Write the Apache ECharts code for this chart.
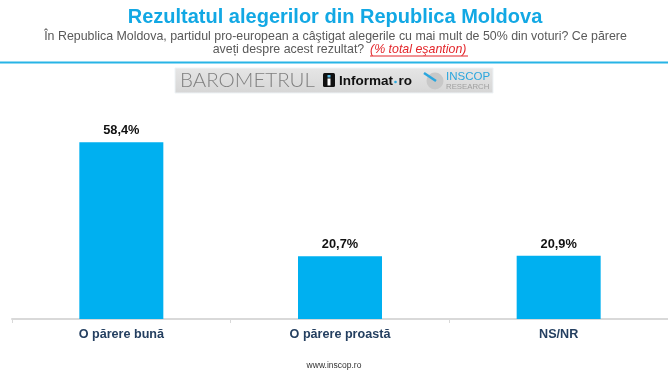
<!DOCTYPE html>
<html>
<head>
<meta charset="utf-8">
<script src="https://cdn.jsdelivr.net/npm/echarts@6/dist/echarts.min.js"></script>
<style>
html,body{margin:0;padding:0;background:#fff;}
#chart{width:668px;height:373px;}
</style>
</head>
<body>
<div id="chart"></div>
<script>
const categories = ['O părere bună', 'O părere proastă', 'NS/NR'];
const values = [58.4, 20.7, 20.9];
const titleText = 'Rezultatul alegerilor din Republica Moldova';
const subtitleLine1 = 'În Republica Moldova, partidul pro-european a câştigat alegerile cu mai mult de 50% din voturi? Ce părere';
const subtitleLine2 = 'aveți despre acest rezultat? ';
const subtitleNote = '(% total eşantion)';
const footerText = 'www.inscop.ro';

const chart = echarts.init(document.getElementById('chart'), null, {renderer: 'canvas'});
const F = '"Liberation Sans", Arial, sans-serif';

chart.setOption({
  animation: false,
  backgroundColor: '#ffffff',
  grid: {left: 12, right: 0, top: 107.2, bottom: 54, containLabel: false},
  xAxis: {
    type: 'category',
    data: categories,
    axisLine: {show: true, lineStyle: {color: '#d9d9d9', width: 2}},
    axisTick: {show: true, length: 4, lineStyle: {color: '#d9d9d9', width: 1}},
    axisLabel: {margin: 9, color: '#243f60', fontFamily: F, fontWeight: 'bold', fontSize: 12.6}
  },
  yAxis: {type: 'value', min: 0, max: 70, show: false, splitLine: {show: false}},
  series: [{
    type: 'bar',
    data: values,
    barWidth: 84,
    itemStyle: {color: '#00b0f0'},
    label: {
      show: true, position: 'top', distance: 5,
      fontFamily: F, fontWeight: 'bold', fontSize: 12.8, color: '#111',
      formatter: p => p.value.toFixed(1).replace('.', ',') + '%'
    }
  }],
  graphic: [
    {type: 'text', x: 335, y: 17, style: {text: titleText, font: 'bold 20px ' + F, fill: '#12a8e4', align: 'center', verticalAlign: 'middle'}},
    {type: 'text', x: 335.5, y: 36.3, style: {text: subtitleLine1, font: '12.4px ' + F, fill: '#595959', align: 'center', verticalAlign: 'middle'}},
    {type: 'text', x: 212.7, y: 49.8, style: {text: subtitleLine2, font: '12.4px ' + F, fill: '#595959', align: 'left', verticalAlign: 'middle'}},
    {type: 'text', x: 370, y: 49.8, style: {text: subtitleNote, font: 'italic 12.4px ' + F, fill: '#e3262b', align: 'left', verticalAlign: 'middle'}},
    {type: 'line', shape: {x1: 370, y1: 56, x2: 468, y2: 56}, style: {stroke: '#e3262b', lineWidth: 1}},
    {type: 'line', shape: {x1: 0, y1: 62.5, x2: 668, y2: 62.5}, style: {stroke: '#27b4e6', lineWidth: 2}},
    // logo box
    {type: 'rect', shape: {x: 175, y: 68, width: 318, height: 25},
      style: {fill: new echarts.graphic.LinearGradient(0, 0, 0, 1, [{offset: 0, color: '#e6e6e6'}, {offset: 1, color: '#d6d6d6'}]), stroke: '#eef3f6', lineWidth: 1}},
    {type: 'text', x: 180, y: 80.5, style: {text: 'BAROMETRUL', font: '300 20.5px Lato, "Open Sans", sans-serif', fill: '#7f7f7f', align: 'left', verticalAlign: 'middle'}},
    {type: 'rect', shape: {x: 323, y: 73, width: 12, height: 14, r: 1.5}, style: {fill: '#111'}},
    {type: 'rect', shape: {x: 327.5, y: 75, width: 3, height: 2.5}, style: {fill: '#5bc0eb'}},
    {type: 'rect', shape: {x: 327.5, y: 78.5, width: 3, height: 7}, style: {fill: '#fff'}},
    {type: 'text', x: 339, y: 81, style: {text: 'Informat', font: 'bold 13.5px ' + F, fill: '#111', align: 'left', verticalAlign: 'middle'}},
    {type: 'circle', shape: {cx: 395.5, cy: 82, r: 1.3}, style: {fill: '#29a9e0'}},
    {type: 'text', x: 398.5, y: 81, style: {text: 'ro', font: 'bold 13.5px ' + F, fill: '#111', align: 'left', verticalAlign: 'middle'}},
    {type: 'circle', shape: {cx: 435, cy: 81, r: 8.5}, style: {fill: '#c8c8c8'}},
    {type: 'line', shape: {x1: 424, y1: 73, x2: 436, y2: 81}, style: {stroke: '#2aa6de', lineWidth: 2.5}},
    {type: 'text', x: 446, y: 76.5, style: {text: 'INSCOP', font: '11.5px ' + F, fill: '#2aa6de', align: 'left', verticalAlign: 'middle'}},
    {type: 'text', x: 446, y: 86.5, style: {text: 'RESEARCH', font: '7.8px ' + F, fill: '#a0a0a0', align: 'left', verticalAlign: 'middle'}},
    {type: 'text', x: 334, y: 366, style: {text: footerText, font: '8.5px ' + F, fill: '#333', align: 'center', verticalAlign: 'middle'}}
  ]
});
</script>
</body>
</html>
